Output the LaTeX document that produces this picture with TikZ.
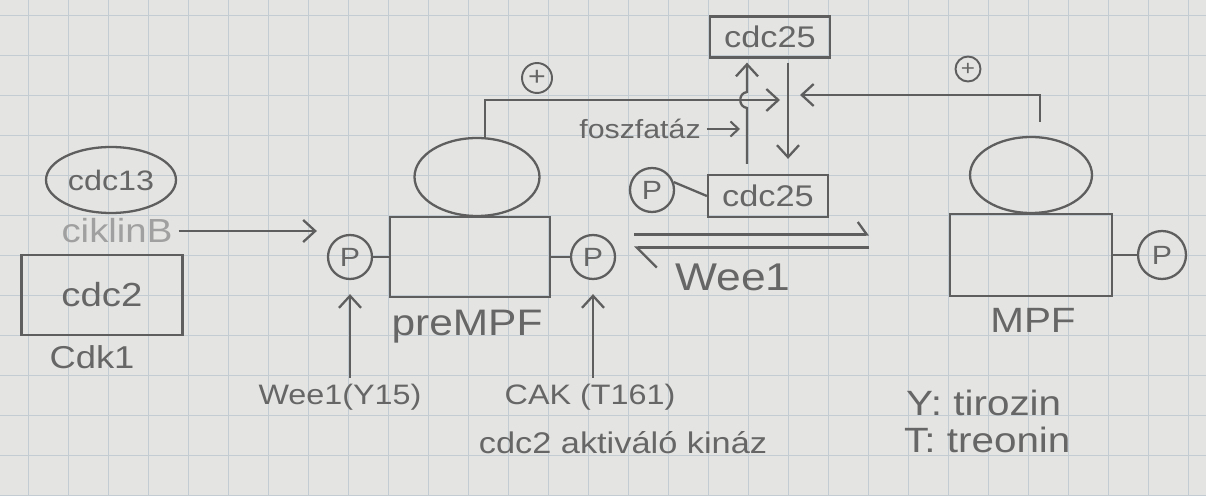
\documentclass[tikz,border=0pt]{standalone}
\usepackage{fontspec}
\setmainfont{Liberation Sans}[FakeStretch=1.15]
\usetikzlibrary{arrows.meta,shapes.geometric,calc}
\definecolor{paper}{HTML}{E4E4E2}
\definecolor{gridc}{HTML}{C3CCD3}
\definecolor{pencil}{HTML}{5E5E5E}
\definecolor{pentext}{HTML}{666666}
\definecolor{faint}{HTML}{A0A0A0}
\newcommand\handsize[1]{\fontsize{#1}{#1}\selectfont}
\tikzset{
  ln/.style={draw=pencil, line width=1.3pt},
  arr/.style={ln, -{Straight Barb[length=0.24cm,width=0.44cm,line width=1.3pt]}},
  arrs/.style={ln, -{Straight Barb[length=0.16cm,width=0.3cm,line width=1.2pt]}},
  harpR/.style={ln, -{Straight Barb[left,length=0.18cm,width=0.5cm,line width=1.3pt]}},
  harpL/.style={ln, -{Straight Barb[left,length=0.4cm,width=0.8cm,line width=1.3pt]}},
  oval/.style={ellipse, ln, inner sep=0pt},
  box/.style={rectangle, ln, inner sep=0pt},
  pc/.style={circle, ln, inner sep=0pt, minimum size=0.88cm, font=\handsize{15}},
  plus/.style={circle, ln, line width=1.1pt, inner sep=0pt, font=\handsize{15}},
}
\begin{document}
\begin{tikzpicture}[x=0.02cm,y=-0.02cm, every node/.style={text=pentext}]
\fill[paper] (0,0) rectangle (1206,496);
\useasboundingbox (0,0) rectangle (1206,496);
\foreach \gx in {28,68,...,1188} \draw[gridc, line width=0.55pt] (\gx,0) -- (\gx,496);
\foreach \gy in {15,55,...,495} \draw[gridc, line width=0.55pt] (0,\gy) -- (1206,\gy);

% left: cdc13 / cyclin B / cdc2 / Cdk1
\node[oval, minimum width=2.6cm, minimum height=1.32cm, font=\handsize{16}] (cdc13) at (111,180) {cdc13};
\node[font=\handsize{19}, text=faint] (ciklin) at (117,231) {ciklinB};
\node[box, minimum width=3.22cm, minimum height=1.6cm, font=\handsize{19}] (cdc2) at (102,295) {cdc2};
\node[font=\handsize{18}] (cdk1) at (92,357) {Cdk1};

% preMPF
\node[pc] (pL) at (350,257) {P};
\node[box, minimum width=3.2cm, minimum height=1.6cm] (pre) at (470,257) {};
\node[oval, minimum width=2.5cm, minimum height=1.56cm] (preE) at (477,177) {};
\node[pc] (pR) at (593,257) {P};
\node[font=\handsize{21}] (preLbl) at (467,327) {preMPF};
\node[plus, minimum size=0.6cm] (plus1) at (537,78) {+};

% cdc25
\node[box, minimum width=2.4cm, minimum height=0.82cm, font=\handsize{17}] (c25t) at (770,37) {cdc25};
\node[box, minimum width=2.4cm, minimum height=0.84cm, font=\handsize{17}] (c25b) at (768,196) {cdc25};
\node[pc] (pC) at (652,190) {P};
\node[font=\handsize{15}] (fosz) at (640,129) {foszfatáz};
\node[font=\handsize{22}] (weeM) at (733,277) {Wee1};
\coordinate (upx) at (747,0);
\coordinate (dnx) at (788,0);

% MPF
\node[oval, minimum width=2.44cm, minimum height=1.52cm] (mpfE) at (1031,175) {};
\node[box, minimum width=3.24cm, minimum height=1.64cm] (mpf) at (1031,255) {};
\node[pc, minimum size=0.96cm] (pM) at (1162,255) {P};
\node[font=\handsize{20}] (mpfLbl) at (1033,320) {MPF};
\node[plus, minimum size=0.5cm, font=\handsize{12}] (plus2) at (968,69) {+};

% bottom labels
\node[font=\handsize{16}] (wee15) at (340,397) {Wee1(Y15)};
\node[font=\handsize{16}] (cak) at (590,397) {CAK (T161)};
\node[font=\handsize{17}] (akt) at (623,443) {cdc2 aktiváló kináz};
\node[font=\handsize{20}, anchor=west] (tir) at (900,403) {Y: tirozin};
\node[font=\handsize{20}, anchor=west] (treo) at (898,440) {T: treonin};

% connectors
\draw[arr, shorten >=0.2cm] (ciklin.east) -- (pL.west |- ciklin.east);
\draw[ln] (pL) -- (pre);
\draw[ln] (pre) -- (pR);
\draw[ln] (mpf) -- (pM);
\draw[arr, shorten >=0.28cm] (wee15.north -| pL) -- (pL.south);
\draw[arr, shorten >=0.28cm] (cak.north -| pR) -- (pR.south);

\coordinate (fb1) at (788,100);
\coordinate (fb2) at (788,95);
\draw[arr, shorten >=0.16cm] ([xshift=0.16cm]preE.north) |- (fb1);
\draw[arr, shorten <=0.28cm, shorten >=0.24cm] ([xshift=0.18cm]mpfE.north) |- (fb2);

\draw[arr, shorten <=0.2cm, shorten >=0.08cm] (c25b.north -| upx) -- (747,108)
   .. controls (738,107) and (738,93) .. (747,92) -- (c25t.south -| upx);
\draw[arr, shorten <=0.08cm, shorten >=0.3cm] (c25t.south -| dnx) -- (c25b.north -| dnx);
\draw[arrs, shorten >=0.14cm] (fosz.east) -- (fosz.east -| upx);
\draw[ln] (pC.20) -- (c25b.west);

\coordinate (eqL) at (634,241);
\coordinate (eqR) at (869,241);
\draw[harpR] ([yshift=0.13cm]eqL) -- ([yshift=0.13cm]eqR);
\draw[harpL] ([yshift=-0.13cm]eqR) -- ([yshift=-0.13cm]eqL);
\end{tikzpicture}
\end{document}
